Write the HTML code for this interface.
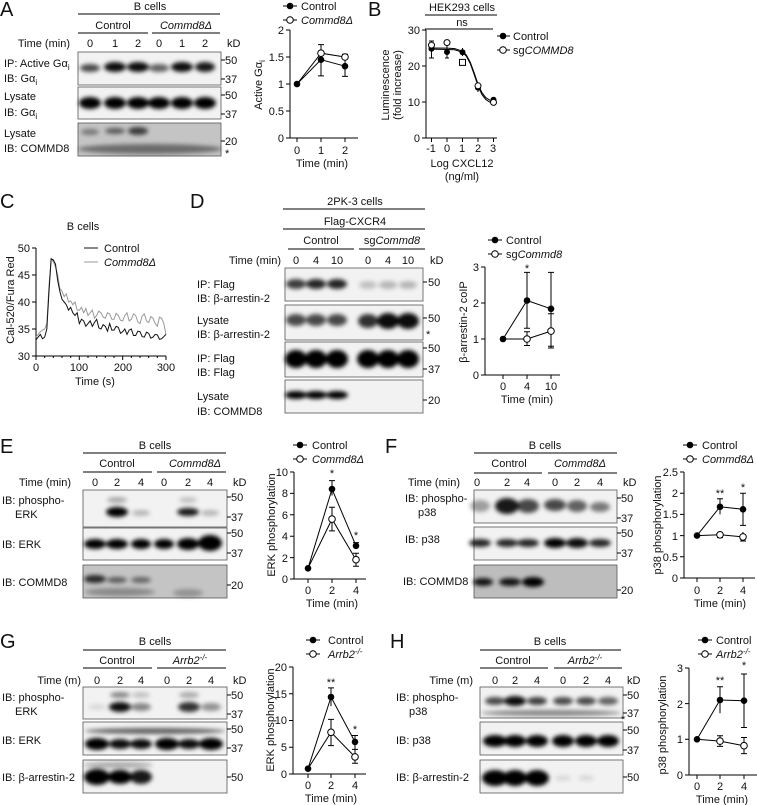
<!DOCTYPE html>
<html><head><meta charset="utf-8"><style>
html,body{margin:0;padding:0;background:#fff;}
svg{display:block;font-family:"Liberation Sans",Arial,sans-serif;}
text{font-size:11px;fill:#111;}
.L{font-size:20px;}
.bx{fill:#f2f2f2;stroke:#555;stroke-width:0.8;}
.b{fill:#000;filter:url(#bl);}
.ax{stroke:#000;stroke-width:1;fill:none;}
.sr{stroke:#000;stroke-width:1;fill:none;}
.f{fill:#000;}
.o{fill:#fff;stroke:#000;stroke-width:1;}
</style></head><body>
<svg width="757" height="805" viewBox="0 0 757 805" xmlns="http://www.w3.org/2000/svg">
<defs><filter id="bl" x="-50%" y="-100%" width="200%" height="300%"><feGaussianBlur stdDeviation="2"/></filter></defs>

<!-- ===== A ===== -->
<text x="0" y="16" class="L">A</text>
<text x="150" y="10" text-anchor="middle">B cells</text>
<line x1="78" y1="14" x2="220" y2="14" class="ax"/>
<text x="113" y="29" text-anchor="middle">Control</text>
<text x="186" y="29" text-anchor="middle" font-style="italic">Commd8Δ</text>
<line x1="78" y1="33" x2="148" y2="33" class="ax"/><line x1="152" y1="33" x2="220" y2="33" class="ax"/>
<text x="70" y="47" text-anchor="end">Time (min)</text>
<g text-anchor="middle"><text x="90" y="47">0</text><text x="115" y="47">1</text><text x="138" y="47">2</text><text x="159" y="47">0</text><text x="182" y="47">1</text><text x="205" y="47">2</text></g>
<text x="227" y="47">kD</text>
<rect class="bx" x="78" y="52" width="143" height="33"/>
<g class="b"><ellipse cx="90" cy="68" rx="10" ry="4" opacity=".7"/><ellipse cx="115" cy="67" rx="11" ry="5" opacity=".95"/><ellipse cx="138" cy="67" rx="11" ry="5" opacity=".95"/><ellipse cx="159" cy="68" rx="10" ry="4" opacity=".6"/><ellipse cx="182" cy="67" rx="11" ry="5" opacity=".95"/><ellipse cx="205" cy="67" rx="10" ry="5" opacity=".9"/></g>
<rect class="bx" x="78" y="87" width="143" height="32"/>
<g class="b"><ellipse cx="90" cy="103" rx="11" ry="6"/><ellipse cx="115" cy="103" rx="11" ry="6"/><ellipse cx="138" cy="103" rx="11" ry="6"/><ellipse cx="159" cy="103" rx="11" ry="6"/><ellipse cx="182" cy="103" rx="11" ry="6"/><ellipse cx="205" cy="103" rx="11" ry="6"/></g>
<rect class="bx" x="78" y="123" width="143" height="33" style="fill:#c4c4c4"/>
<g class="b"><ellipse cx="90" cy="132" rx="9" ry="3" opacity=".4"/><ellipse cx="115" cy="131" rx="10" ry="3" opacity=".55"/><ellipse cx="138" cy="131" rx="10" ry="4" opacity=".7"/><ellipse cx="150" cy="149" rx="72" ry="5" opacity=".45"/></g>
<g><text x="4" y="67">IP: Active Gα<tspan font-size="8" dy="3">i</tspan></text><text x="4" y="82">IB: Gα<tspan font-size="8" dy="3">i</tspan></text>
<text x="4" y="100">Lysate</text><text x="4" y="116">IB: Gα<tspan font-size="8" dy="3">i</tspan></text>
<text x="4" y="137">Lysate</text><text x="4" y="152">IB: COMMD8</text></g>
<g class="ax"><line x1="221" y1="60" x2="225" y2="60"/><line x1="221" y1="79" x2="225" y2="79"/><line x1="221" y1="95" x2="225" y2="95"/><line x1="221" y1="114" x2="225" y2="114"/><line x1="221" y1="141" x2="225" y2="141"/></g>
<text x="225" y="64">50</text><text x="225" y="83">37</text><text x="225" y="99">50</text><text x="225" y="118">37</text><text x="225" y="145">20</text><text x="225" y="157">*</text>
<!-- A graph -->
<path class="ax" d="M290,30V138H358M286,30H290M286,57H290M286,84H290M286,111H290M286,138H290M297,138V142M321,138V142M345,138V142"/>
<g text-anchor="end"><text x="284" y="34">2</text><text x="284" y="61">1.5</text><text x="284" y="88">1</text><text x="284" y="115">0.5</text><text x="284" y="142">0</text></g>
<g text-anchor="middle"><text x="297" y="154">0</text><text x="321" y="154">1</text><text x="345" y="154">2</text><text x="322" y="167">Time (min)</text></g>
<text transform="translate(262,85) rotate(-90)" text-anchor="middle">Active Gα<tspan font-size="8" dy="3">i</tspan></text>
<path class="sr" d="M297,84L321,59.7L345,66.2M297,84L321,53.2L345,57M321,75.9V44.6M318,44.6H324M318,75.9H324M345,76.4V54.3M342,76.4H348M342,54.3H348"/>
<circle class="f" cx="297" cy="84" r="3.3"/><circle class="f" cx="321" cy="59.7" r="3.3"/><circle class="f" cx="345" cy="66.2" r="3.3"/>
<circle class="o" cx="321" cy="53.2" r="3.3"/><circle class="o" cx="345" cy="57" r="3.3"/>
<line x1="283" y1="6" x2="297" y2="6" class="ax"/><circle class="f" cx="290" cy="6" r="3.3"/><text x="301" y="10">Control</text>
<line x1="283" y1="20" x2="297" y2="20" class="ax"/><circle class="o" cx="290" cy="20" r="3.3"/><text x="301" y="24" font-style="italic">Commd8Δ</text>

<!-- ===== B ===== -->
<text x="368" y="16" class="L">B</text>
<text x="462" y="11" text-anchor="middle">HEK293 cells</text>
<line x1="425" y1="15" x2="497" y2="15" class="ax"/>
<text x="462" y="26" text-anchor="middle">ns</text>
<line x1="425" y1="29" x2="493" y2="29" class="ax"/>
<path class="ax" d="M426,30V138H497M422,30H426M422,66H426M422,102H426M422,138H426M431.5,138V142M447,138V142M462.5,138V142M478,138V142M493.5,138V142"/>
<g text-anchor="end"><text x="420" y="34">30</text><text x="420" y="70">20</text><text x="420" y="106">10</text><text x="420" y="142">0</text></g>
<g text-anchor="middle"><text x="431" y="152">-1</text><text x="447" y="152">0</text><text x="462" y="152">1</text><text x="478" y="152">2</text><text x="493" y="152">3</text><text x="462" y="167">Log CXCL12</text><text x="462" y="180">(ng/ml)</text></g>
<text transform="translate(389,85) rotate(-90)" text-anchor="middle">Luminescence</text>
<text transform="translate(401,85) rotate(-90)" text-anchor="middle">(fold increase)</text>
<polyline class="sr" vector-effect="non-scaling-stroke" transform="translate(447,138) scale(15.5,-3.6)" points="-1,25 0,24.97 0.5,24.84 1,24.11 1.25,23.04 1.5,21.07 1.75,18.15 2,15 2.25,12.62 2.5,11.23 2.75,10.54 3,10.23"/>
<polyline class="sr" vector-effect="non-scaling-stroke" transform="translate(447,138) scale(15.5,-3.6)" points="-1,24.7 0,24.6 0.5,24.5 1,23.8 1.25,22.7 1.5,20.7 1.75,17.7 2,14.5 2.25,12.1 2.5,10.7 2.75,10 3,9.7"/>
<path class="sr" d="M431.5,41V58M429,41H434M429,58H434M447,40V58M445,40H449M445,58H449M462.5,48V56M478,83V92M493.5,99V104"/>
<circle class="f" cx="431.5" cy="48.7" r="3"/><circle class="f" cx="447" cy="52" r="3"/><circle class="f" cx="462.5" cy="52.3" r="3"/><circle class="f" cx="478" cy="87.6" r="3"/><circle class="f" cx="493.5" cy="99.8" r="3"/>
<circle class="o" cx="431.5" cy="45.1" r="3"/><circle class="o" cx="447" cy="42.6" r="3"/><rect class="o" x="459.5" y="59.4" width="6" height="6"/><circle class="o" cx="478" cy="85.8" r="3"/><circle class="o" cx="493.5" cy="102.4" r="3"/>
<line x1="497" y1="36" x2="510" y2="36" class="ax"/><circle class="f" cx="503" cy="36" r="3.3"/><text x="513" y="40">Control</text>
<line x1="497" y1="50" x2="510" y2="50" class="ax"/><circle class="o" cx="503" cy="50" r="3.3"/><text x="513" y="54">sg<tspan font-style="italic">COMMD8</tspan></text>

<!-- ===== C ===== -->
<text x="0" y="208" class="L">C</text>
<text x="83" y="230" text-anchor="middle">B cells</text>
<path class="ax" d="M36,248V356H166M32,248H36M32,275H36M32,302H36M32,329H36M32,356H36M36,356V360M79.3,356V360M122.7,356V360M166,356V360"/>
<path class="ax" stroke-width="0.6" d="M44.7,356V358M53.3,356V358M62,356V358M70.7,356V358M88,356V358M96.7,356V358M105.3,356V358M114,356V358M131.3,356V358M140,356V358M148.7,356V358M157.3,356V358"/>
<g text-anchor="end"><text x="30" y="252">50</text><text x="30" y="279">45</text><text x="30" y="306">40</text><text x="30" y="333">35</text><text x="30" y="360">30</text></g>
<g text-anchor="middle"><text x="36" y="371">0</text><text x="79" y="371">100</text><text x="123" y="371">200</text><text x="166" y="371">300</text><text x="95" y="385">Time (s)</text></g>
<text transform="translate(14,300) rotate(-90)" text-anchor="middle">Cal-520/Fura Red</text>
<polyline fill="none" stroke="#999" stroke-width="1" vector-effect="non-scaling-stroke" transform="translate(36,356) scale(0.4333,-5.4)" points="0,3.5 5,4 10,4.5 15,4.8 20,5 25,6 30,13 35,18 40,17.5 45,16.5 50,15 55,12.5 60,12 65,11 70,11.5 75,10 80,10.2 85,9.5 90,10 95,8.5 100,8.5 105,9 110,8 115,8.8 120,7.5 125,8 130,8.5 135,7 140,7.5 145,8.3 150,8 155,7.2 160,7 165,8 170,7.8 175,6.8 180,6.8 185,7.9 190,7.5 195,6.6 200,6.5 205,7.5 210,8 215,6.5 220,6.8 225,7.8 230,7.5 235,6.3 240,6 245,7.4 250,7.8 255,6.5 260,6.2 265,7.3 270,7 275,6 280,5.5 285,7.2 290,7 295,6 300,4"/>
<polyline fill="none" stroke="#111" stroke-width="1" vector-effect="non-scaling-stroke" transform="translate(36,356) scale(0.4333,-5.4)" points="0,3 5,3.5 10,4 15,3.2 20,3.5 25,5 30,12 35,18 40,17.8 45,17 50,14 55,12 60,10.5 65,10 70,9.5 75,8.5 80,9 85,8 90,7.5 95,8 100,6 105,6.8 110,6.5 115,5.5 120,6 125,6.5 130,5.5 135,6.2 140,6.8 145,5.2 150,5 155,5.8 160,5.5 165,4.6 170,6 175,4.8 180,4.8 185,5.5 190,5.3 195,4.2 200,4.5 205,5 210,4 215,4.8 220,5 225,3.8 230,3.8 235,4.6 240,4.5 245,3.6 250,3.5 255,4.4 260,4.2 265,3.3 270,3.5 275,4 280,3.9 285,3.1 290,3.2 295,3.6 300,4"/>
<line x1="84" y1="248" x2="98" y2="248" stroke="#111"/><text x="104" y="252">Control</text>
<line x1="84" y1="262" x2="98" y2="262" stroke="#999"/><text x="104" y="266" font-style="italic">Commd8Δ</text>

<!-- ===== D ===== -->
<text x="190" y="208" class="L">D</text>
<text x="355" y="205" text-anchor="middle">2PK-3 cells</text>
<line x1="283" y1="209" x2="425" y2="209" class="ax"/>
<text x="355" y="225" text-anchor="middle">Flag-CXCR4</text>
<line x1="283" y1="229" x2="425" y2="229" class="ax"/>
<text x="321" y="244" text-anchor="middle">Control</text>
<text x="392" y="244" text-anchor="middle">sg<tspan font-style="italic">Commd8</tspan></text>
<line x1="288" y1="249" x2="354" y2="249" class="ax"/><line x1="359" y1="249" x2="425" y2="249" class="ax"/>
<text x="281" y="264" text-anchor="end">Time (min)</text>
<g text-anchor="middle"><text x="296" y="264">0</text><text x="316" y="264">4</text><text x="337" y="264">10</text><text x="368" y="264">0</text><text x="388" y="264">4</text><text x="408" y="264">10</text></g>
<text x="430" y="264">kD</text>
<rect class="bx" x="285" y="268" width="138" height="33"/>
<g class="b"><ellipse cx="296" cy="284" rx="10" ry="5" opacity=".75"/><ellipse cx="316" cy="284" rx="10" ry="5" opacity=".85"/><ellipse cx="337" cy="284" rx="10" ry="5" opacity=".85"/><ellipse cx="368" cy="285" rx="9" ry="4" opacity=".2"/><ellipse cx="388" cy="285" rx="9" ry="4" opacity=".25"/><ellipse cx="408" cy="285" rx="9" ry="4" opacity=".25"/></g>
<rect class="bx" x="285" y="305" width="138" height="35"/>
<g class="b"><ellipse cx="296" cy="320" rx="10" ry="6" opacity=".7"/><ellipse cx="316" cy="320" rx="10" ry="6" opacity=".7"/><ellipse cx="337" cy="320" rx="10" ry="6" opacity=".7"/><ellipse cx="368" cy="321" rx="10" ry="7" opacity=".8"/><ellipse cx="388" cy="321" rx="11" ry="8" opacity=".95"/><ellipse cx="408" cy="321" rx="11" ry="8" opacity=".95"/></g>
<rect class="bx" x="285" y="342" width="138" height="35"/>
<g class="b"><ellipse cx="296" cy="359" rx="11" ry="9"/><ellipse cx="316" cy="359" rx="11" ry="9"/><ellipse cx="337" cy="359" rx="11" ry="9"/><ellipse cx="368" cy="359" rx="11" ry="9"/><ellipse cx="388" cy="359" rx="11" ry="9"/><ellipse cx="408" cy="359" rx="11" ry="9"/></g>
<rect class="bx" x="285" y="380" width="138" height="33"/>
<g class="b"><ellipse cx="296" cy="395" rx="11" ry="4"/><ellipse cx="316" cy="395" rx="11" ry="4"/><ellipse cx="337" cy="395" rx="11" ry="4"/></g>
<text x="197" y="288">IP: Flag</text><text x="197" y="302">IB: β-arrestin-2</text>
<text x="197" y="324">Lysate</text><text x="197" y="338">IB: β-arrestin-2</text>
<text x="197" y="362">IP: Flag</text><text x="197" y="376">IB: Flag</text>
<text x="197" y="400">Lysate</text><text x="197" y="415">IB: COMMD8</text>
<g class="ax"><line x1="423" y1="282" x2="427" y2="282"/><line x1="423" y1="318" x2="427" y2="318"/><line x1="423" y1="348" x2="427" y2="348"/><line x1="423" y1="369" x2="427" y2="369"/><line x1="423" y1="400" x2="427" y2="400"/></g>
<text x="428" y="286">50</text><text x="428" y="322">50</text><text x="426" y="338">*</text><text x="428" y="352">50</text><text x="428" y="373">37</text><text x="428" y="404">20</text>
<!-- D graph -->
<path class="ax" d="M485,267V375H560M481,267H485M481,303H485M481,339H485M481,375H485M503,375V379M527,375V379M551,375V379"/>
<g text-anchor="end"><text x="479" y="271">3</text><text x="479" y="307">2</text><text x="479" y="343">1</text><text x="479" y="379">0</text></g>
<g text-anchor="middle"><text x="503" y="390">0</text><text x="527" y="390">4</text><text x="551" y="390">10</text><text x="527" y="403">Time (min)</text><text x="527" y="272">*</text></g>
<text transform="translate(467,322) rotate(-90)" text-anchor="middle">β-arrestin-2 coIP</text>
<path class="sr" d="M503,339L527,300.5L551,308.8M503,339L527,339L551,331.1M527,328.2V272.4M524,272.4H530M524,328.2H530M551,346.2V272.4M548,272.4H554M548,346.2H554M527,345.5V331.8M524,345.5H530M524,331.8H530M551,348V313.8M548,348H554M548,313.8H554"/>
<circle class="f" cx="503" cy="339" r="3.3"/><circle class="f" cx="527" cy="300.5" r="3.3"/><circle class="f" cx="551" cy="308.8" r="3.3"/>
<circle class="o" cx="527" cy="339" r="3.3"/><circle class="o" cx="551" cy="331.1" r="3.3"/>
<line x1="488" y1="240" x2="502" y2="240" class="ax"/><circle class="f" cx="495" cy="240" r="3.3"/><text x="506" y="244">Control</text>
<line x1="488" y1="254" x2="502" y2="254" class="ax"/><circle class="o" cx="495" cy="254" r="3.3"/><text x="506" y="258">sg<tspan font-style="italic">Commd8</tspan></text>

<!-- ===== E ===== -->
<text x="0" y="453" class="L">E</text>
<text x="155" y="449" text-anchor="middle">B cells</text>
<line x1="83" y1="453" x2="226" y2="453" class="ax"/>
<text x="117" y="467" text-anchor="middle">Control</text>
<text x="195" y="467" text-anchor="middle" font-style="italic">Commd8Δ</text>
<line x1="83" y1="472" x2="152" y2="472" class="ax"/><line x1="157" y1="472" x2="226" y2="472" class="ax"/>
<text x="71" y="486" text-anchor="end">Time (min)</text>
<g text-anchor="middle"><text x="95" y="486">0</text><text x="117" y="486">2</text><text x="141" y="486">4</text><text x="164" y="486">0</text><text x="188" y="486">2</text><text x="210" y="486">4</text></g>
<text x="233" y="486">kD</text>
<rect class="bx" x="83" y="490" width="144" height="37"/>
<g class="b"><ellipse cx="117" cy="500" rx="10" ry="3" opacity=".3"/><ellipse cx="117" cy="512" rx="11" ry="5"/><ellipse cx="141" cy="513" rx="9" ry="3" opacity=".25"/><ellipse cx="188" cy="500" rx="9" ry="3" opacity=".2"/><ellipse cx="188" cy="512" rx="11" ry="4" opacity=".9"/><ellipse cx="210" cy="513" rx="9" ry="3" opacity=".25"/></g>
<rect class="bx" x="83" y="528" width="144" height="32"/>
<g class="b"><ellipse cx="95" cy="544" rx="11" ry="5"/><ellipse cx="117" cy="544" rx="11" ry="5"/><ellipse cx="141" cy="544" rx="10" ry="5"/><ellipse cx="164" cy="544" rx="10" ry="5"/><ellipse cx="188" cy="544" rx="11" ry="6"/><ellipse cx="210" cy="543" rx="12" ry="8"/></g>
<rect class="bx" x="83" y="565" width="144" height="33" style="fill:#c4c4c4"/>
<g class="b"><ellipse cx="95" cy="579" rx="11" ry="4" opacity=".8"/><ellipse cx="117" cy="580" rx="10" ry="3" opacity=".55"/><ellipse cx="141" cy="580" rx="10" ry="3" opacity=".5"/><ellipse cx="120" cy="592" rx="35" ry="4" opacity=".3"/><ellipse cx="188" cy="593" rx="15" ry="4" opacity=".25"/></g>
<text x="2" y="504">IB: phospho-</text><text x="15" y="518">ERK</text>
<text x="2" y="548">IB: ERK</text><text x="2" y="586">IB: COMMD8</text>
<g class="ax"><line x1="227" y1="497" x2="231" y2="497"/><line x1="227" y1="517" x2="231" y2="517"/><line x1="227" y1="533" x2="231" y2="533"/><line x1="227" y1="553" x2="231" y2="553"/><line x1="227" y1="585" x2="231" y2="585"/></g>
<text x="231" y="501">50</text><text x="231" y="521">37</text><text x="231" y="537">50</text><text x="231" y="557">37</text><text x="231" y="589">20</text>
<!-- E graph -->
<path class="ax" d="M294,472V579H366M290,472H294M290,493.4H294M290,514.8H294M290,536.2H294M290,557.6H294M290,579H294M308,579V583M332,579V583M356,579V583"/>
<g text-anchor="end"><text x="288" y="476">10</text><text x="288" y="497">8</text><text x="288" y="519">6</text><text x="288" y="540">4</text><text x="288" y="562">2</text><text x="288" y="583">0</text></g>
<g text-anchor="middle"><text x="308" y="594">0</text><text x="332" y="594">2</text><text x="356" y="594">4</text><text x="332" y="607">Time (min)</text><text x="332" y="477">*</text><text x="356" y="539">*</text></g>
<text transform="translate(275,525) rotate(-90)" text-anchor="middle">ERK phosphorylation</text>
<path class="sr" d="M308,568.3L332,489.1L356,545.8M308,568.3L332,519.1L356,559.7M332,495.5V480.6M329,480.6H335M356,549V542.6M353,542.6H359M332,530.9V507.3M329,530.9H335M329,507.3H335M356,566.2V553.3M353,566.2H359M353,553.3H359"/>
<circle class="f" cx="308" cy="568.3" r="3.3"/><circle class="f" cx="332" cy="489.1" r="3.3"/><circle class="f" cx="356" cy="545.8" r="3.3"/>
<circle class="o" cx="332" cy="519.1" r="3.3"/><circle class="o" cx="356" cy="559.7" r="3.3"/>
<line x1="293" y1="445" x2="307" y2="445" class="ax"/><circle class="f" cx="300" cy="445" r="3.3"/><text x="312" y="449">Control</text>
<line x1="293" y1="459" x2="307" y2="459" class="ax"/><circle class="o" cx="300" cy="459" r="3.3"/><text x="312" y="463" font-style="italic">Commd8Δ</text>

<!-- ===== F ===== -->
<text x="385" y="453" class="L">F</text>
<text x="545" y="449" text-anchor="middle">B cells</text>
<line x1="474" y1="453" x2="617" y2="453" class="ax"/>
<text x="509" y="467" text-anchor="middle">Control</text>
<text x="580" y="467" text-anchor="middle" font-style="italic">Commd8Δ</text>
<line x1="474" y1="473" x2="542" y2="473" class="ax"/><line x1="548" y1="473" x2="617" y2="473" class="ax"/>
<text x="460" y="486" text-anchor="end">Time (min)</text>
<g text-anchor="middle"><text x="477" y="486">0</text><text x="507" y="486">2</text><text x="527" y="486">4</text><text x="555" y="486">0</text><text x="577" y="486">2</text><text x="600" y="486">4</text></g>
<text x="623" y="486">kD</text>
<rect class="bx" x="474" y="490" width="143" height="33"/>
<g class="b"><ellipse cx="480" cy="506" rx="10" ry="6" opacity=".35"/><ellipse cx="507" cy="506" rx="12" ry="8" opacity=".9"/><ellipse cx="528" cy="506" rx="11" ry="7" opacity=".7"/><ellipse cx="555" cy="505" rx="11" ry="6" opacity=".7"/><ellipse cx="577" cy="506" rx="10" ry="6" opacity=".6"/><ellipse cx="600" cy="507" rx="10" ry="5" opacity=".5"/></g>
<rect class="bx" x="474" y="527" width="143" height="33"/>
<g class="b"><ellipse cx="480" cy="543" rx="11" ry="4" opacity=".85"/><ellipse cx="507" cy="543" rx="11" ry="4" opacity=".85"/><ellipse cx="528" cy="543" rx="11" ry="4" opacity=".85"/><ellipse cx="555" cy="543" rx="11" ry="5"/><ellipse cx="577" cy="543" rx="11" ry="5" opacity=".95"/><ellipse cx="600" cy="543" rx="11" ry="4" opacity=".85"/></g>
<rect class="bx" x="474" y="565" width="143" height="33" style="fill:#bdbdbd"/>
<g class="b"><ellipse cx="483" cy="582" rx="10" ry="4" opacity=".9"/><ellipse cx="510" cy="582" rx="11" ry="4" opacity=".9"/><ellipse cx="533" cy="582" rx="11" ry="5"/></g>
<text x="405" y="502">IB: phospho-</text><text x="418" y="516">p38</text>
<text x="405" y="543">IB: p38</text><text x="403" y="585">IB: COMMD8</text>
<g class="ax"><line x1="617" y1="498" x2="621" y2="498"/><line x1="617" y1="518" x2="621" y2="518"/><line x1="617" y1="533" x2="621" y2="533"/><line x1="617" y1="553" x2="621" y2="553"/><line x1="617" y1="590" x2="621" y2="590"/></g>
<text x="621" y="502">50</text><text x="621" y="522">37</text><text x="621" y="537">50</text><text x="621" y="557">37</text><text x="621" y="594">20</text>
<!-- F graph -->
<path class="ax" d="M684,472V578H755M680,472H684M680,493.2H684M680,514.4H684M680,535.6H684M680,556.8H684M680,578H684M697,578V582M720,578V582M743,578V582"/>
<g text-anchor="end"><text x="678" y="476">2.5</text><text x="678" y="497">2</text><text x="678" y="518">1.5</text><text x="678" y="540">1</text><text x="678" y="561">0.5</text><text x="678" y="582">0</text></g>
<g text-anchor="middle"><text x="697" y="594">0</text><text x="720" y="594">2</text><text x="743" y="594">4</text><text x="720" y="607">Time (min)</text><text x="720" y="497">**</text><text x="743" y="491">*</text></g>
<text transform="translate(661,525) rotate(-90)" text-anchor="middle">p38 phosphorylation</text>
<path class="sr" d="M697,535.6L720,506.8L743,509.3M697,535.6L720,534.8L743,536.9M720,514.4V498.7M717,498.7H723M743,525.4V493.2M740,525.4H746M740,493.2H746M720,537.6V531.5M717,537.6H723M743,541V532M740,541H746"/>
<circle class="f" cx="697" cy="535.6" r="3.3"/><circle class="f" cx="720" cy="506.8" r="3.3"/><circle class="f" cx="743" cy="509.3" r="3.3"/>
<circle class="o" cx="720" cy="534.8" r="3.3"/><circle class="o" cx="743" cy="536.9" r="3.3"/>
<line x1="683" y1="445" x2="697" y2="445" class="ax"/><circle class="f" cx="690" cy="445" r="3.3"/><text x="702" y="449">Control</text>
<line x1="683" y1="459" x2="697" y2="459" class="ax"/><circle class="o" cx="690" cy="459" r="3.3"/><text x="702" y="463" font-style="italic">Commd8Δ</text>

<!-- ===== G ===== -->
<text x="0" y="648" class="L">G</text>
<text x="155" y="645" text-anchor="middle">B cells</text>
<line x1="83" y1="650" x2="226" y2="650" class="ax"/>
<text x="117" y="664" text-anchor="middle">Control</text>
<text x="190" y="664" text-anchor="middle"><tspan font-style="italic">Arrb2</tspan><tspan font-size="8" dy="-4" font-style="italic">-/-</tspan></text>
<line x1="83" y1="668" x2="152" y2="668" class="ax"/><line x1="157" y1="668" x2="226" y2="668" class="ax"/>
<text x="81" y="684" text-anchor="end">Time (m)</text>
<g text-anchor="middle"><text x="97" y="684">0</text><text x="120" y="684">2</text><text x="141" y="684">4</text><text x="167" y="684">0</text><text x="189" y="684">2</text><text x="211" y="684">4</text></g>
<text x="233" y="684">kD</text>
<rect class="bx" x="83" y="687" width="144" height="32"/>
<g class="b"><ellipse cx="97" cy="707" rx="9" ry="3" opacity=".1"/><ellipse cx="120" cy="695" rx="10" ry="3" opacity=".45"/><ellipse cx="120" cy="707" rx="11" ry="5" opacity=".95"/><ellipse cx="141" cy="707" rx="10" ry="4" opacity=".45"/><ellipse cx="141" cy="695" rx="9" ry="3" opacity=".2"/><ellipse cx="189" cy="695" rx="10" ry="3" opacity=".3"/><ellipse cx="189" cy="707" rx="11" ry="5" opacity=".8"/><ellipse cx="211" cy="707" rx="10" ry="4" opacity=".4"/></g>
<rect class="bx" x="83" y="722" width="144" height="33"/>
<g class="b"><ellipse cx="155" cy="731" rx="70" ry="3" opacity=".6"/><ellipse cx="97" cy="744" rx="12" ry="6"/><ellipse cx="120" cy="744" rx="11" ry="5" opacity=".95"/><ellipse cx="141" cy="744" rx="11" ry="5" opacity=".95"/><ellipse cx="167" cy="744" rx="12" ry="6"/><ellipse cx="189" cy="744" rx="11" ry="5" opacity=".95"/><ellipse cx="211" cy="744" rx="12" ry="6"/></g>
<rect class="bx" x="83" y="760" width="144" height="33"/>
<g class="b"><ellipse cx="97" cy="777" rx="13" ry="8"/><ellipse cx="120" cy="777" rx="12" ry="7"/><ellipse cx="141" cy="777" rx="11" ry="7" opacity=".9"/><ellipse cx="118" cy="765" rx="35" ry="3" opacity=".3"/></g>
<text x="2" y="701">IB: phospho-</text><text x="15" y="715">ERK</text>
<text x="2" y="744">IB: ERK</text><text x="2" y="781">IB: β-arrestin-2</text>
<g class="ax"><line x1="227" y1="695" x2="231" y2="695"/><line x1="227" y1="714" x2="231" y2="714"/><line x1="227" y1="729" x2="231" y2="729"/><line x1="227" y1="748" x2="231" y2="748"/><line x1="227" y1="777" x2="231" y2="777"/></g>
<text x="231" y="699">50</text><text x="231" y="718">37</text><text x="231" y="733">50</text><text x="231" y="752">37</text><text x="231" y="781">50</text>
<!-- G graph -->
<path class="ax" d="M293,667V774H366M289,667H293M289,693.75H293M289,720.5H293M289,747.25H293M289,774H293M308,774V778M331,774V778M355,774V778"/>
<g text-anchor="end"><text x="287" y="671">20</text><text x="287" y="698">15</text><text x="287" y="724">10</text><text x="287" y="751">5</text><text x="287" y="778">0</text></g>
<g text-anchor="middle"><text x="308" y="789">0</text><text x="331" y="789">2</text><text x="355" y="789">4</text><text x="331" y="802">Time (min)</text><text x="331" y="686">**</text><text x="355" y="733">*</text></g>
<text transform="translate(274,720) rotate(-90)" text-anchor="middle">ERK phosphorylation</text>
<path class="sr" d="M308,768.7L331,697L355,741.9M308,768.7L331,732.3L355,756.9M331,706.1V687.9M328,687.9H334M355,748.9V735.5M352,735.5H358M331,745.6V719.4M328,745.6H334M328,719.4H334M355,763.3V749.4M352,763.3H358M352,749.4H358"/>
<circle class="f" cx="308" cy="768.7" r="3.3"/><circle class="f" cx="331" cy="697" r="3.3"/><circle class="f" cx="355" cy="741.9" r="3.3"/>
<circle class="o" cx="331" cy="732.3" r="3.3"/><circle class="o" cx="355" cy="756.9" r="3.3"/>
<line x1="306" y1="640" x2="320" y2="640" class="ax"/><circle class="f" cx="313" cy="640" r="3.3"/><text x="328" y="644">Control</text>
<line x1="306" y1="654" x2="320" y2="654" class="ax"/><circle class="o" cx="313" cy="654" r="3.3"/><text x="328" y="658"><tspan font-style="italic">Arrb2</tspan><tspan font-size="8" dy="-4" font-style="italic">-/-</tspan></text>

<!-- ===== H ===== -->
<text x="390" y="648" class="L">H</text>
<g transform="translate(6,0)">
<text x="544" y="645" text-anchor="middle">B cells</text>
<line x1="474" y1="650" x2="615" y2="650" class="ax"/>
<text x="507" y="664" text-anchor="middle">Control</text>
<text x="579" y="664" text-anchor="middle"><tspan font-style="italic">Arrb2</tspan><tspan font-size="8" dy="-4" font-style="italic">-/-</tspan></text>
<line x1="474" y1="668" x2="542" y2="668" class="ax"/><line x1="548" y1="668" x2="616" y2="668" class="ax"/>
<text x="467" y="684" text-anchor="end">Time (m)</text>
<g text-anchor="middle"><text x="489" y="684">0</text><text x="509" y="684">2</text><text x="531" y="684">4</text><text x="557" y="684">0</text><text x="580" y="684">2</text><text x="602" y="684">4</text></g>
<text x="621" y="684">kD</text>
<rect class="bx" x="474" y="687" width="143" height="31"/>
<g class="b"><ellipse cx="489" cy="701" rx="10" ry="4" opacity=".7"/><ellipse cx="509" cy="701" rx="11" ry="5" opacity=".95"/><ellipse cx="531" cy="701" rx="10" ry="4" opacity=".75"/><ellipse cx="557" cy="701" rx="10" ry="4" opacity=".7"/><ellipse cx="580" cy="701" rx="10" ry="4" opacity=".7"/><ellipse cx="602" cy="701" rx="10" ry="4" opacity=".6"/><ellipse cx="545" cy="713" rx="70" ry="3" opacity=".45"/></g>
<rect class="bx" x="474" y="722" width="143" height="33"/>
<g class="b"><ellipse cx="489" cy="741" rx="12" ry="6"/><ellipse cx="509" cy="741" rx="11" ry="6"/><ellipse cx="531" cy="741" rx="11" ry="6"/><ellipse cx="557" cy="741" rx="11" ry="6"/><ellipse cx="580" cy="741" rx="11" ry="6"/><ellipse cx="602" cy="741" rx="11" ry="6"/></g>
<rect class="bx" x="474" y="760" width="143" height="33"/>
<g class="b"><ellipse cx="489" cy="778" rx="13" ry="8"/><ellipse cx="509" cy="778" rx="12" ry="8"/><ellipse cx="531" cy="778" rx="12" ry="8"/><ellipse cx="557" cy="778" rx="8" ry="3" opacity=".1"/><ellipse cx="580" cy="778" rx="8" ry="3" opacity=".1"/></g>
<g class="ax"><line x1="617" y1="695" x2="621" y2="695"/><line x1="617" y1="713" x2="621" y2="713"/><line x1="617" y1="730" x2="621" y2="730"/><line x1="617" y1="750" x2="621" y2="750"/><line x1="617" y1="777" x2="621" y2="777"/></g>
<text x="621" y="699">50</text><text x="621" y="717">37</text><text x="615" y="723">*</text><text x="621" y="734">50</text><text x="621" y="754">37</text><text x="621" y="781">50</text>
</g>
<text x="396" y="701">IB: phospho-</text><text x="409" y="715">p38</text>
<text x="396" y="744">IB: p38</text><text x="396" y="781">IB: β-arrestin-2</text>
<!-- H graph -->
<path class="ax" d="M689,668V775H757M685,668H689M685,703.6H689M685,739.3H689M685,775H689M697,775V779M720,775V779M744,775V779"/>
<g text-anchor="end"><text x="683" y="672">3</text><text x="683" y="708">2</text><text x="683" y="743">1</text><text x="683" y="779">0</text></g>
<g text-anchor="middle"><text x="697" y="790">0</text><text x="720" y="790">2</text><text x="744" y="790">4</text><text x="722" y="803">Time (min)</text><text x="720" y="684">**</text><text x="744" y="669">*</text></g>
<text transform="translate(666,725) rotate(-90)" text-anchor="middle">p38 phosphorylation</text>
<path class="sr" d="M697,739.3L720,700L744,700.7M697,739.3L720,741.1L744,745.7M720,713.2V686.8M717,686.8H723M744,727.5V674M741,727.5H747M741,674H747M720,746.4V735.7M717,746.4H723M717,735.7H723M744,753.6V737.5M741,753.6H747M741,737.5H747"/>
<circle class="f" cx="697" cy="739.3" r="3.3"/><circle class="f" cx="720" cy="700" r="3.3"/><circle class="f" cx="744" cy="700.7" r="3.3"/>
<circle class="o" cx="720" cy="741.1" r="3.3"/><circle class="o" cx="744" cy="745.7" r="3.3"/>
<line x1="698" y1="640" x2="712" y2="640" class="ax"/><circle class="f" cx="705" cy="640" r="3.3"/><text x="716" y="644">Control</text>
<line x1="698" y1="654" x2="712" y2="654" class="ax"/><circle class="o" cx="705" cy="654" r="3.3"/><text x="716" y="658"><tspan font-style="italic">Arrb2</tspan><tspan font-size="8" dy="-4" font-style="italic">-/-</tspan></text>
</svg>
</body></html>
